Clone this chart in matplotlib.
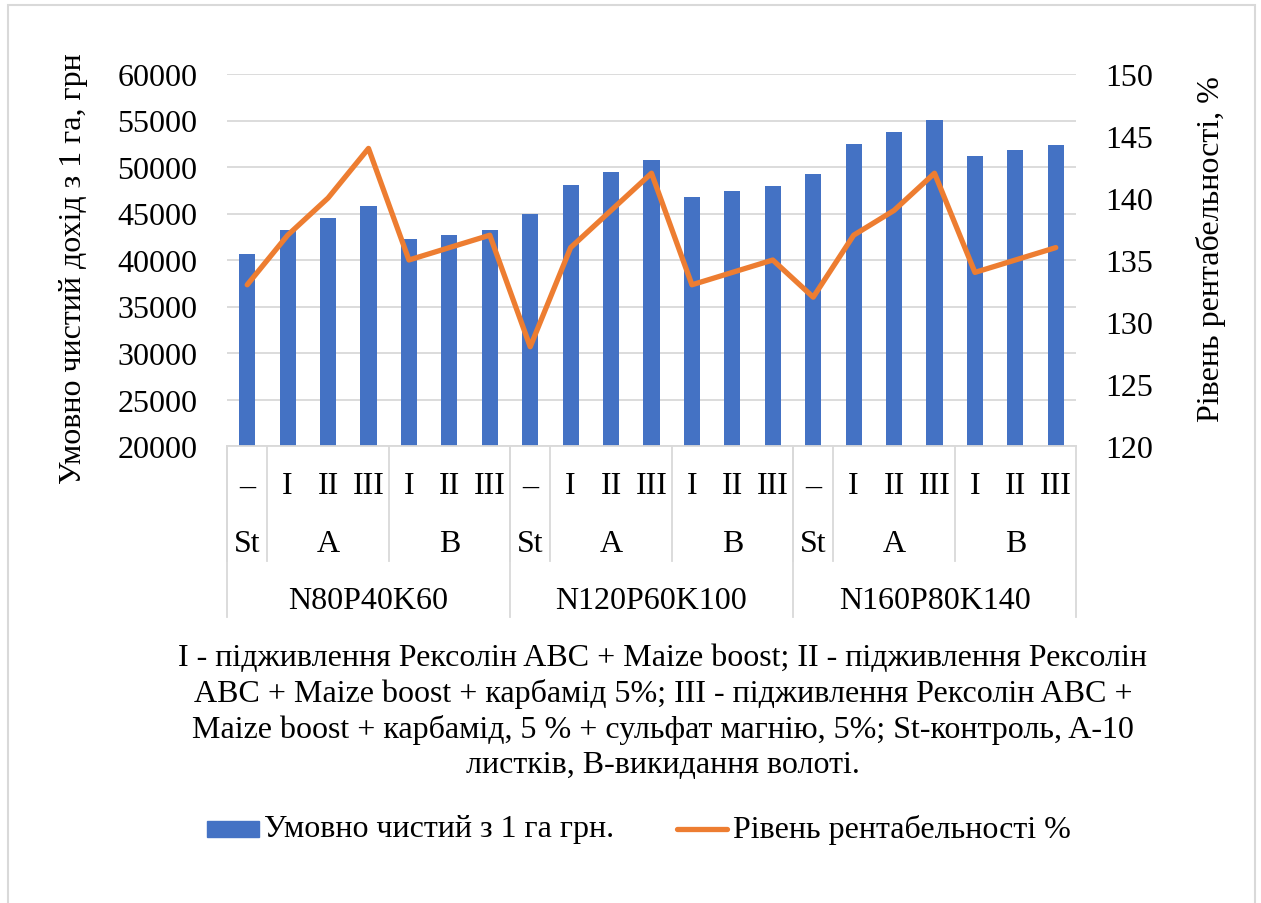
import matplotlib
matplotlib.use("Agg")
import matplotlib.pyplot as plt
import matplotlib.transforms as mtrans
from matplotlib.patches import Rectangle
from matplotlib.lines import Line2D

plt.rcParams['font.family'] = ['Liberation Serif', 'DejaVu Serif']

# ---- data ----
groups = ['N80P40K60', 'N120P60K100', 'N160P80K140']
subgroups = ['St', 'A', 'B']
sub_sizes = [1, 3, 3]
leaf_labels = ['–', 'I', 'II', 'III', 'I', 'II', 'III']
profit = [40600, 43200, 44500, 45800, 42300, 42700, 43200,
          44900, 48100, 49500, 50800, 46800, 47400, 48000,
          49200, 52500, 53800, 55100, 51200, 51800, 52400]
rent = [133, 137, 140, 144, 135, 136, 137,
        128, 136, 139, 142, 133, 134, 135,
        132, 137, 139, 142, 134, 135, 136]
left_ticks = [20000, 25000, 30000, 35000, 40000, 45000, 50000, 55000, 60000]
right_ticks = [120, 125, 130, 135, 140, 145, 150]
bar_label = 'Умовно чистий з 1 га грн.'
line_label = 'Рівень рентабельності %'
ylabel_left = 'Умовно чистий дохід з 1 га, грн'
ylabel_right = 'Рівень рентабельності, %'
caption = ('I - підживлення Рексолін ABC + Maize boost; II - підживлення Рексолін\n'
           'ABC + Maize boost + карбамід 5%; III - підживлення Рексолін ABC +\n'
           'Maize boost + карбамід, 5 % + сульфат магнію, 5%; St-контроль, A-10\n'
           'листків, B-викидання волоті.')

BLUE = '#4472C4'
ORANGE = '#ED7D31'
GRID = '#D9D9D9'
FS = 23

W, H = 1261, 904
fig = plt.figure(figsize=(W / 100, H / 100), dpi=100)

def fx(px):
    return px / W

def fy(py):
    return 1 - py / H

# outer chart border
fig.patches.append(Rectangle((fx(8), fy(910)), fx(1255) - fx(8), fy(6) - fy(910),
                             transform=fig.transFigure, fill=False,
                             edgecolor=GRID, linewidth=1.5))

L, R, T, B = 227, 1076, 75, 447
ax = fig.add_axes([fx(L), fy(B), fx(R) - fx(L), fy(T) - fy(B)])
n = len(profit)
x = list(range(n))
ax.bar(x, [p - left_ticks[0] for p in profit], bottom=left_ticks[0], width=0.4,
       color=BLUE, zorder=2)
ax.set_xlim(-0.5, n - 0.5)
ax.set_ylim(left_ticks[0], left_ticks[-1])
ax.set_yticks(left_ticks)
ax.set_yticklabels([str(t) for t in left_ticks], fontsize=FS)
ax.tick_params(axis='y', length=0, pad=21.5)
ax.set_xticks([])
ax.grid(axis='y', color=GRID, linewidth=1.3, zorder=0)
ax.set_axisbelow(True)
for s in ['top', 'left', 'right']:
    ax.spines[s].set_visible(False)
ax.spines['bottom'].set_color(GRID)
ax.spines['bottom'].set_linewidth(1.3)

ax2 = ax.twinx()
ax2.plot(x, rent, color=ORANGE, linewidth=3.8, zorder=3, solid_joinstyle='round',
         solid_capstyle='round')
ax2.set_ylim(right_ticks[0], right_ticks[-1])
ax2.set_yticks(right_ticks)
ax2.set_yticklabels([str(t) for t in right_ticks], fontsize=FS)
ax2.tick_params(axis='y', length=0, pad=21)
for s in ['top', 'left', 'right', 'bottom']:
    ax2.spines[s].set_visible(False)

# axis titles
fig.text(fx(74), fy(269), ylabel_left, rotation=90, ha='center', va='center', fontsize=FS)
fig.text(fx(1211), fy(249), ylabel_right, rotation=90, ha='center', va='center', fontsize=FS)

# ---- multi-level category axis ----
bt = mtrans.blended_transform_factory(ax.transData, fig.transFigure)
y_leaf, y_sub, y_grp = 487, 544, 602
y_sub_end, y_grp_end = 562, 618

def vline(xd, y0, y1):
    ax.add_line(Line2D([xd, xd], [fy(y0), fy(y1)], transform=bt, color=GRID,
                       linewidth=1.3, clip_on=False))

pos = 0
for g in groups:
    start = pos
    vline(pos - 0.5, B, y_grp_end)
    leaf_i = 0
    for sg, sz in zip(subgroups, sub_sizes):
        vline(pos - 0.5, B, y_sub_end)
        for k in range(sz):
            ax.text(pos + k, fy(y_leaf), leaf_labels[leaf_i], transform=bt,
                    ha='center', va='center', fontsize=FS)
            leaf_i += 1
        ax.text(pos + (sz - 1) / 2, fy(y_sub), sg, transform=bt,
                ha='center', va='center', fontsize=FS)
        pos += sz
    ax.text((start + pos - 1) / 2, fy(y_grp), g, transform=bt, ha='center', va='center',
            fontsize=FS)
vline(n - 0.5, B, y_grp_end)

# ---- caption ----
fig.text(fx(663), fy(712), caption, ha='center', va='center', fontsize=FS,
         linespacing=1.27)

# ---- legend ----
fig.patches.append(Rectangle((fx(207), fy(838)), fx(259) - fx(207), fy(822) - fy(838),
                             transform=fig.transFigure, color=BLUE))
fig.text(fx(264), fy(830), bar_label, ha='left', va='center', fontsize=FS)
fig.lines.append(Line2D([fx(677), fx(727)], [fy(830), fy(830)], transform=fig.transFigure,
                        color=ORANGE, linewidth=3.8, solid_capstyle='round'))
fig.text(fx(733), fy(830), line_label, ha='left', va='center', fontsize=FS)

fig.savefig('out.png', dpi=100, facecolor='white')
